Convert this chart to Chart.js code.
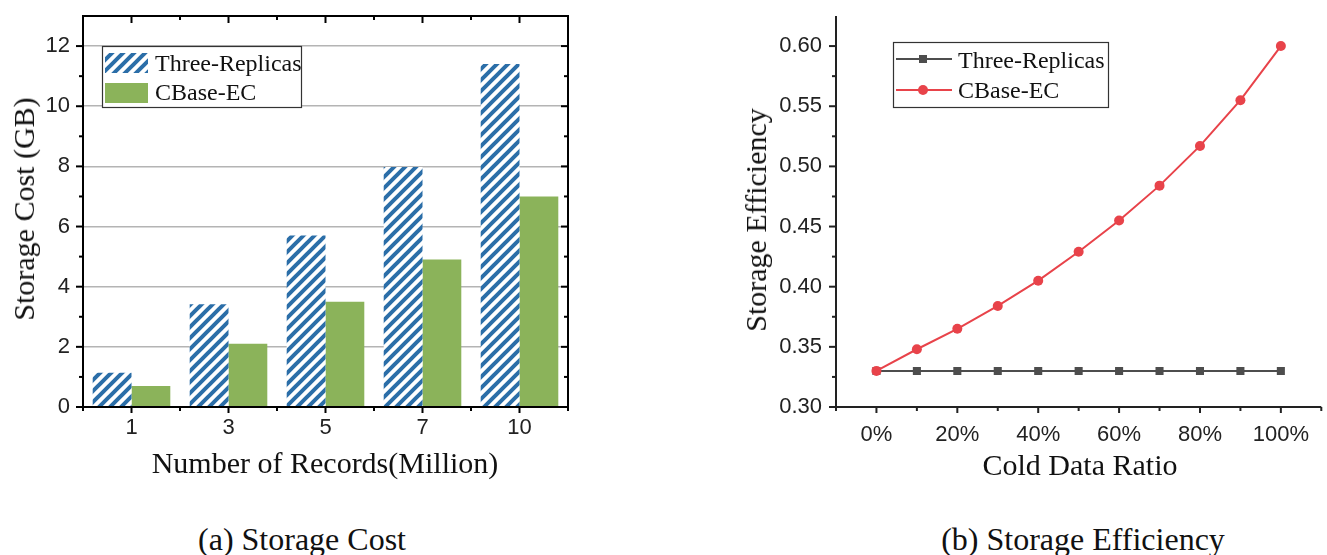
<!DOCTYPE html>
<html>
<head>
<meta charset="utf-8">
<script src="https://cdn.jsdelivr.net/npm/chart.js@4.4.1/dist/chart.umd.min.js"></script>
<style>
  body { margin: 0; background: #fff; width: 1327px; height: 555px; overflow: hidden; position: relative;
         font-family: "Liberation Serif", "Times New Roman", serif; color: #111; }
  canvas { position: absolute; top: 0; }
  #costChart { left: 0; }
  #effChart { left: 700px; }
  .lbl { position: absolute; white-space: nowrap; line-height: 1; }
</style>
</head>
<body>
<canvas id="costChart" width="600" height="480"></canvas>
<canvas id="effChart" width="627" height="480"></canvas>
<script>
// ---- data: (a) storage cost ----
const recordCounts = ["1", "3", "5", "7", "10"];
const replicaCost = [1.14, 3.42, 5.7, 7.98, 11.4];
const ecCost = [0.7, 2.1, 3.5, 4.9, 7.0];
const costTicks = [0, 2, 4, 6, 8, 10, 12];
const costMinorTicks = [1, 3, 5, 7, 9, 11];

// ---- data: (b) storage efficiency ----
const coldRatio = [0, 0.1, 0.2, 0.3, 0.4, 0.5, 0.6, 0.7, 0.8, 0.9, 1.0];
const replicaEff = [0.33, 0.33, 0.33, 0.33, 0.33, 0.33, 0.33, 0.33, 0.33, 0.33, 0.33];
const ecEff = [0.33, 0.348, 0.365, 0.384, 0.405, 0.429, 0.455, 0.484, 0.517, 0.555, 0.600];
const effTicks = [0.30, 0.35, 0.40, 0.45, 0.50, 0.55, 0.60];
const effMinorTicks = [0.325, 0.375, 0.425, 0.475, 0.525, 0.575];
const ratioTicks = [0, 0.2, 0.4, 0.6, 0.8, 1.0];
const ratioTickLabels = ["0%", "20%", "40%", "60%", "80%", "100%"];
const ratioMinorTicks = [-0.1, 0.1, 0.3, 0.5, 0.7, 0.9, 1.1];

const BLUE = "#2b6ea8";
const GREEN = "#8bb35a";
const RED = "#e8434a";
const GRAY = "#4d4d4d";
const tickFont = { family: "'Liberation Sans', Arial, sans-serif", size: 22 };
const legendFont = "24px 'Liberation Serif', 'Times New Roman', serif";

// diagonal hatch for the Three-Replicas bars
function makeHatch(color) {
  const c = document.createElement("canvas");
  c.width = c.height = 11;
  const g = c.getContext("2d");
  g.fillStyle = "#fff";
  g.fillRect(0, 0, 11, 11);
  g.strokeStyle = color;
  g.lineWidth = 4;
  g.beginPath();
  g.moveTo(-2, 13); g.lineTo(13, -2);
  g.moveTo(-2, 2); g.lineTo(2, -2);
  g.moveTo(9, 13); g.lineTo(13, 9);
  g.stroke();
  return g.createPattern(c, "repeat");
}
const hatch = makeHatch(BLUE);

function line(ctx, x1, y1, x2, y2) {
  ctx.beginPath();
  ctx.moveTo(x1, y1);
  ctx.lineTo(x2, y2);
  ctx.stroke();
}

// keep the plot box where the reference has it
function fixBox(size, isX) {
  return s => {
    if (isX) s.height = size; else s.width = size;
    s.paddingTop = s.paddingBottom = s.paddingLeft = s.paddingRight = 0;
  };
}

// frame, ticks and legend for (a)
const costDecor = {
  id: "costDecor",
  afterDraw(chart) {
    const { ctx, chartArea: ca, scales } = chart;
    const xs = scales.x, ys = scales.y;
    ctx.save();
    ctx.strokeStyle = "#000";
    ctx.lineWidth = 2;
    ctx.strokeRect(ca.left, ca.top, ca.right - ca.left, ca.bottom - ca.top);
    costTicks.forEach(v => {
      const py = ys.getPixelForValue(v);
      line(ctx, ca.left - 7, py, ca.left, py);
      line(ctx, ca.right - 7, py, ca.right, py);
    });
    costMinorTicks.forEach(v => {
      const py = ys.getPixelForValue(v);
      line(ctx, ca.left - 4, py, ca.left, py);
      line(ctx, ca.right - 4, py, ca.right, py);
    });
    const half = (xs.getPixelForValue(1) - xs.getPixelForValue(0)) / 2;
    recordCounts.forEach((_, i) => {
      const px = xs.getPixelForValue(i);
      line(ctx, px, ca.top, px, ca.top + 7);
      line(ctx, px, ca.bottom, px, ca.bottom + 6);
      [px - half, px + half].forEach(bx => {
        line(ctx, bx, ca.top, bx, ca.top + 4);
        line(ctx, bx, ca.bottom, bx, ca.bottom + 4);
      });
    });
    // legend
    ctx.fillStyle = "#fff";
    ctx.fillRect(102, 46, 199, 61);
    ctx.lineWidth = 1.2;
    ctx.strokeStyle = "#333";
    ctx.strokeRect(102.5, 46.5, 199, 61);
    ctx.fillStyle = hatch;
    ctx.fillRect(105, 53, 43, 20);
    ctx.fillStyle = GREEN;
    ctx.fillRect(105, 83, 43, 20);
    ctx.fillStyle = "#111";
    ctx.font = legendFont;
    ctx.textBaseline = "alphabetic";
    ctx.fillText("Three-Replicas", 155, 71);
    ctx.fillText("CBase-EC", 155, 100);
    ctx.restore();
  }
};

new Chart(document.getElementById("costChart"), {
  type: "bar",
  data: {
    labels: recordCounts,
    datasets: [
      { label: "Three-Replicas", data: replicaCost, backgroundColor: hatch, borderWidth: 0 },
      { label: "CBase-EC", data: ecCost, backgroundColor: GREEN, borderWidth: 0 }
    ]
  },
  options: {
    responsive: false,
    animation: false,
    events: [],
    layout: { padding: { top: 16, right: 32, left: 0, bottom: 0 } },
    datasets: { bar: { barPercentage: 1, categoryPercentage: 0.8 } },
    plugins: { legend: { display: false }, tooltip: { enabled: false } },
    scales: {
      x: {
        grid: { display: false, drawTicks: false },
        border: { display: false },
        ticks: { font: tickFont, color: "#222", padding: 8 },
        afterFit: fixBox(73, true)
      },
      y: {
        min: 0, max: 13,
        afterBuildTicks: s => { s.ticks = costTicks.map(v => ({ value: v })); },
        grid: {
          drawTicks: false,
          lineWidth: 1.5,
          color: c => (c.tick && c.tick.value === 0 ? "rgba(0,0,0,0)" : "#b4b4b4")
        },
        border: { display: false },
        ticks: { font: tickFont, color: "#222", padding: 13 },
        afterFit: fixBox(83, false)
      }
    }
  },
  plugins: [costDecor]
});

// axes, ticks and legend for (b)
const effDecor = {
  id: "effDecor",
  afterDraw(chart) {
    const { ctx, chartArea: ca, scales } = chart;
    const xs = scales.x, ys = scales.y;
    ctx.save();
    ctx.strokeStyle = "#222";
    ctx.lineWidth = 2;
    line(ctx, ca.left, ca.top, ca.left, ca.bottom + 1);
    line(ctx, ca.left - 1, ca.bottom, ca.right, ca.bottom);
    effTicks.forEach(v => {
      const py = ys.getPixelForValue(v);
      line(ctx, ca.left - 7, py, ca.left, py);
    });
    effMinorTicks.forEach(v => {
      const py = ys.getPixelForValue(v);
      line(ctx, ca.left - 4, py, ca.left, py);
    });
    ratioTicks.forEach(v => {
      const px = xs.getPixelForValue(v);
      line(ctx, px, ca.bottom, px, ca.bottom + 6);
    });
    ratioMinorTicks.forEach(v => {
      const px = xs.getPixelForValue(v);
      line(ctx, px, ca.bottom, px, ca.bottom + 4);
    });
    // legend
    const L = 193, T = 42;
    ctx.lineWidth = 1.2;
    ctx.strokeStyle = "#333";
    ctx.strokeRect(L + 0.5, T + 0.5, 215, 65);
    ctx.lineWidth = 2;
    ctx.strokeStyle = GRAY;
    line(ctx, L + 3, 59, L + 59, 59);
    ctx.fillStyle = GRAY;
    ctx.fillRect(L + 26, 55, 8, 8);
    ctx.strokeStyle = RED;
    line(ctx, L + 3, 90, L + 59, 90);
    ctx.fillStyle = RED;
    ctx.beginPath();
    ctx.arc(L + 30, 90, 5, 0, Math.PI * 2);
    ctx.fill();
    ctx.fillStyle = "#111";
    ctx.font = legendFont;
    ctx.fillText("Three-Replicas", L + 65, 68);
    ctx.fillText("CBase-EC", L + 65, 98);
    ctx.restore();
  }
};

new Chart(document.getElementById("effChart"), {
  type: "line",
  data: {
    datasets: [
      {
        label: "Three-Replicas",
        data: coldRatio.map((x, i) => ({ x, y: replicaEff[i] })),
        borderColor: GRAY, backgroundColor: GRAY, borderWidth: 2,
        pointStyle: "rect", pointRadius: 5.7, pointBorderWidth: 0, order: 1
      },
      {
        label: "CBase-EC",
        data: coldRatio.map((x, i) => ({ x, y: ecEff[i] })),
        borderColor: RED, backgroundColor: RED, borderWidth: 2,
        pointStyle: "circle", pointRadius: 5, pointBorderWidth: 0, order: 0
      }
    ]
  },
  options: {
    responsive: false,
    animation: false,
    events: [],
    layout: { padding: { top: 16, right: 5, left: 0, bottom: 0 } },
    elements: { line: { tension: 0 } },
    plugins: { legend: { display: false }, tooltip: { enabled: false } },
    scales: {
      x: {
        type: "linear", min: -0.1, max: 1.1,
        afterBuildTicks: s => { s.ticks = ratioTicks.map(v => ({ value: v })); },
        grid: { display: false, drawTicks: false },
        border: { display: false },
        ticks: {
          font: tickFont, color: "#222", padding: 15,
          callback: (v, i) => ratioTickLabels[i]
        },
        afterFit: fixBox(73, true)
      },
      y: {
        min: 0.30, max: 0.625,
        afterBuildTicks: s => { s.ticks = effTicks.map(v => ({ value: v })); },
        grid: { display: false, drawTicks: false },
        border: { display: false },
        ticks: { font: tickFont, color: "#222", padding: 14, callback: v => v.toFixed(2) },
        afterFit: fixBox(136, false)
      }
    }
  },
  plugins: [effDecor]
});

// titles and captions as page text
function placeText(text, x, baseline, size, rotate) {
  const d = document.createElement("div");
  d.className = "lbl";
  d.textContent = text;
  d.style.fontSize = size + "px";
  if (rotate) {
    d.style.left = x + "px";
    d.style.top = baseline + "px";
    d.style.transform = "translate(-50%, -50%) rotate(-90deg)";
  } else {
    d.style.left = x + "px";
    d.style.top = (baseline - 0.8375 * size) + "px";
    d.style.transform = "translateX(-50%)";
  }
  document.body.appendChild(d);
}
placeText("Storage Cost (GB)", 24, 209, 30, true);
placeText("Number of Records(Million)", 325, 473, 30, false);
placeText("(a) Storage Cost", 302, 550, 32, false);
placeText("Storage Efficiency", 756, 220, 30, true);
placeText("Cold Data Ratio", 1080, 475, 30, false);
placeText("(b) Storage Efficiency", 1083, 550, 32, false);
</script>
</body>
</html>
